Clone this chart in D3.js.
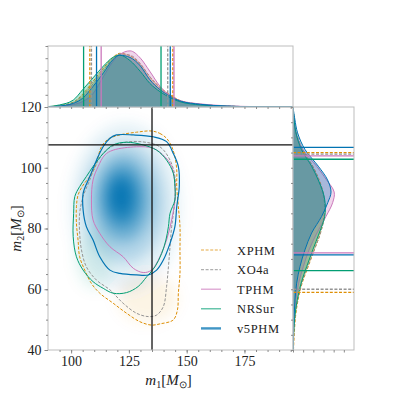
<!DOCTYPE html>
<html>
<head>
<meta charset="utf-8">
<script src="https://cdn.jsdelivr.net/npm/d3@7"></script>
<style>
body { margin: 0; background: #fff; }
</style>
</head>
<body>
<svg id="chart" width="393" height="393"></svg>
<script>
// models, drawn in this order
var models = ['XPHM', 'XO4a', 'TPHM', 'NRSur', 'v5PHM'];
var colors = ['#de8f05', '#949494', '#cc78bc', '#029e73', '#0173b2'];
var dashed = [true, true, false, false, false];

var m1Domain = [90, 196],
	m2Domain = [40, 120];
var m1Ticks = [100, 125, 150, 175];
var m2Ticks = [40, 60, 80, 100, 120];

// injected values (black cross)
var injM1 = 135, injM2 = 107.5;

// 90% contours [m1, m2]
var contourXPHM = [[134.8,112.1],[138.4,111.3],[141.3,109.7],[143.5,107.0],[144.9,103.6],[145.7,99.3],[145.7,93.8],[146.4,87.2],[147.1,80.6],[147.1,72.9],[147.1,65.2],[146.4,58.7],[146,53.2],[144.2,49.9],[138.4,48.6],[134.8,48.2],[129.8,49.3],[124,52.1],[118.2,55.4],[112.4,58.7],[108.8,61.9],[105.9,66.3],[103.7,70.7],[103,76.2],[102.3,81.7],[102.3,87.2],[103,91],[105.2,94.3],[108.1,97.1],[110.5,100.4],[111.7,103.6],[113.1,106.9],[116,109.4],[121.1,110.8],[128.3,111.7]];
var contourXO4a = [[129.8,108.6],[138.4,106.9],[142.8,102.5],[144.9,97.1],[144.9,89.4],[143.5,80.6],[142.8,74],[142.1,67.4],[141.3,60.9],[139.9,54.3],[137,51.5],[133.4,51],[128.3,52.1],[122.5,55.4],[116.8,59.8],[111,63],[106.6,67.4],[104.5,72.9],[103.7,78.4],[103.7,85],[105.2,90.5],[108.1,96],[111,101.5],[115.3,105.8],[121.1,108]];
var contourTPHM = [[118.2,105.8],[128.3,106.9],[135.5,106.4],[140.6,103.6],[143.5,100.4],[144.9,94.9],[144.9,89.4],[143.5,82.8],[141.3,76.2],[138.4,70.7],[134.8,66.3],[131.2,65.5],[126.9,66.9],[122.5,70.7],[116.8,74],[112.4,78.4],[109.5,82.8],[108.8,89.4],[109.5,96],[111.7,100.4],[114.6,104.2]];
var contourNRSur = [[124,108.4],[131.2,107.5],[137,105.8],[141.3,102.5],[144.2,98.2],[144.9,93.8],[144.9,89.4],[142.8,85],[142.1,80.6],[141,76.2],[139.2,71.8],[136.3,67.4],[132.7,64.1],[129,60.9],[124,58.9],[118.2,58.7],[113.9,60.3],[109.5,62.5],[105.2,66.3],[102.3,70.7],[100.9,77.3],[101.1,85],[101.6,90.5],[103.7,93.8],[106.6,97.1],[109.5,100.4],[113.9,104.7],[118.2,107.5]];
var contourV5PHM = [[119.6,110.8],[126.9,110.8],[135.5,110.2],[141.3,108.6],[144.2,104.7],[146.4,100.4],[146.8,93.8],[145.7,87.2],[144.9,80.6],[142.8,75.1],[139.9,69.6],[137,66.3],[133.4,64.7],[128.3,64.7],[121.1,65.2],[116.8,66.3],[112.4,70.7],[109.5,76.2],[106.6,80.6],[105.2,86.1],[105.2,91.6],[108.1,97.1],[111,102.5],[113.9,107],[116.8,109.7]];
var contours = [contourXPHM, contourXO4a, contourTPHM, contourNRSur, contourV5PHM];

// density blobs behind the contours [m1, m2, half-width m1, half-width m2, alpha]
var heatBlue = [[123.5,87,24,28,0.1],[123,88.5,18,20,0.22],[122.5,89.5,12,14,0.4],[122,90,7.5,9,0.65],[121.5,90.5,4,5,0.85]];
var heatOrange = [[133,57,13,8,0.1]];
var heatGreen = [[110,70,8,10,0.1]];

// m1 marginal
var m1Grid = [90, 95, 101, 105, 109.5, 114, 118, 121, 125.5, 130, 134, 138.5, 143, 147, 156, 167, 180, 196];
var m1XPHM  = [0.0002,0.0012,0.004,0.0105,0.021,0.032,0.0405,0.044,0.042,0.035,0.025,0.016,0.0098,0.0055,0.0022,0.0008,0.0002,0];
var m1XO4a  = [0.0002,0.001,0.0035,0.009,0.019,0.030,0.0395,0.0435,0.0425,0.0355,0.025,0.0155,0.0092,0.0052,0.0021,0.0008,0.0002,0];
var m1TPHM  = [0,0.0005,0.002,0.0045,0.011,0.025,0.037,0.043,0.046,0.040,0.0294,0.0169,0.0092,0.0053,0.0025,0.001,0.0003,0];
var m1NRSur = [0.0003,0.0017,0.0058,0.0142,0.0239,0.0336,0.0406,0.0425,0.038,0.029,0.0195,0.0125,0.0075,0.0044,0.0017,0.0006,0.0002,0];
var m1V5PHM = [0,0.0008,0.003,0.0072,0.0169,0.028,0.0386,0.0425,0.0406,0.0336,0.0225,0.0142,0.0086,0.005,0.0022,0.0008,0.0002,0];
var m1Dens = [m1XPHM, m1XO4a, m1TPHM, m1NRSur, m1V5PHM];

// m2 marginal
var m2Grid = [40, 45, 51, 56.5, 62, 67.5, 73, 78.5, 84, 88.5, 92, 96, 100.5, 106, 111.5, 116, 120];
var m2XPHM  = [0.0005,0.0012,0.0025,0.005,0.009,0.015,0.021,0.027,0.0305,0.031,0.0295,0.0258,0.0195,0.0095,0.0032,0.001,0.0002];
var m2XO4a  = [0.0003,0.0008,0.002,0.0045,0.0085,0.0145,0.021,0.027,0.031,0.031,0.029,0.025,0.019,0.009,0.003,0.001,0.0002];
var m2TPHM  = [0,0.0004,0.001,0.0028,0.0055,0.0102,0.0158,0.0235,0.0325,0.039,0.0405,0.033,0.0233,0.0097,0.0029,0.001,0];
var m2NRSur = [0.0002,0.0006,0.0018,0.0042,0.008,0.0135,0.0195,0.0258,0.0312,0.0316,0.0295,0.0248,0.0183,0.0083,0.0029,0.001,0.0002];
var m2V5PHM = [0,0.0003,0.001,0.002,0.0036,0.0069,0.0118,0.0183,0.0282,0.0342,0.0374,0.034,0.0249,0.0118,0.0045,0.0018,0];
var m2Dens = [m2XPHM, m2XO4a, m2TPHM, m2NRSur, m2V5PHM];

// 90% credible bounds
var m1Low  = [108.1, 108.8, 113, 105.4, 111];
var m1High = [144, 141.8, 144.5, 138.9, 142.9];
var m2Low  = [59, 60, 72, 66.1, 71.3];
var m2High = [105, 104.5, 103.9, 102.8, 106.7];

var densTicks = [0, 0.01, 0.02, 0.03, 0.04, 0.05];

// layout
var mainL = 48, mainT = 107, mainW = 245, mainH = 243;
var topH = 61, rightW = 61;
var spineColor = '#bdbdbd', tickColor = '#8a8a8a';
var serif = '"Liberation Serif", "Times New Roman", Times, serif';

var svg = d3.select('#chart');

var x = d3.scaleLinear().domain(m1Domain).range([mainL, mainL + mainW]);
var y = d3.scaleLinear().domain(m2Domain).range([mainT + mainH, mainT]);
var yTop = d3.scaleLinear().domain([0, 0.05]).range([mainT, mainT - topH]);
var xRight = d3.scaleLinear().domain([0, 0.06]).range([mainL + mainW, mainL + mainW + rightW]);

var defs = svg.append('defs');
defs.append('filter').attr('id', 'blur')
	.attr('x', '-50%').attr('y', '-50%').attr('width', '200%').attr('height', '200%')
	.append('feGaussianBlur').attr('stdDeviation', 7);
defs.append('clipPath').attr('id', 'clipMain').append('rect')
	.attr('x', mainL).attr('y', mainT).attr('width', mainW).attr('height', mainH);
defs.append('clipPath').attr('id', 'clipTop').append('rect')
	.attr('x', mainL).attr('y', mainT - topH).attr('width', mainW).attr('height', topH);
defs.append('clipPath').attr('id', 'clipRight').append('rect')
	.attr('x', mainL + mainW).attr('y', mainT).attr('width', rightW).attr('height', mainH);

// ---- main panel
var mainPanel = svg.append('g').attr('clip-path', 'url(#clipMain)');
var heat = mainPanel.append('g').attr('filter', 'url(#blur)');

function drawHeat(list, color) {
	heat.selectAll(null).data(list).enter().append('ellipse')
		.attr('cx', function(d) { return x(d[0]); })
		.attr('cy', function(d) { return y(d[1]); })
		.attr('rx', function(d) { return x(d[0] + d[2]) - x(d[0]); })
		.attr('ry', function(d) { return y(d[1]) - y(d[1] + d[3]); })
		.attr('fill', color)
		.attr('fill-opacity', function(d) { return d[4]; });
}
drawHeat(heatOrange, colors[0]);
drawHeat(heatGreen, colors[3]);
drawHeat(heatBlue, colors[4]);

var contourLine = d3.line()
	.x(function(d) { return x(d[0]); })
	.y(function(d) { return y(d[1]); })
	.curve(d3.curveCatmullRomClosed.alpha(0.5));

contours.forEach(function(c, i) {
	mainPanel.append('path')
		.attr('d', contourLine(c))
		.attr('fill', 'none')
		.attr('stroke', colors[i])
		.attr('stroke-width', i == 4 ? 1.2 : 1)
		.attr('stroke-dasharray', dashed[i] ? '3,1.6' : null);
});

mainPanel.append('line')
	.attr('x1', x(injM1)).attr('x2', x(injM1))
	.attr('y1', mainT).attr('y2', mainT + mainH)
	.attr('stroke', '#111').attr('stroke-width', 1.3);
mainPanel.append('line')
	.attr('x1', mainL).attr('x2', mainL + mainW)
	.attr('y1', y(injM2)).attr('y2', y(injM2))
	.attr('stroke', '#111').attr('stroke-width', 1.3);

// ---- top marginal
var topPanel = svg.append('g').attr('clip-path', 'url(#clipTop)');
var topArea = d3.area()
	.x(function(d) { return x(d[0]); })
	.y0(yTop(0))
	.y1(function(d) { return yTop(d[1]); })
	.curve(d3.curveMonotoneX);

m1Dens.forEach(function(dens, i) {
	var pts = m1Grid.map(function(m, k) { return [m, dens[k]]; });
	topPanel.append('path')
		.attr('d', topArea(pts))
		.attr('fill', colors[i]).attr('fill-opacity', 0.3)
		.attr('stroke', colors[i]).attr('stroke-width', 1)
		.attr('stroke-dasharray', dashed[i] ? '3,1.6' : null);
});
m1Dens.forEach(function(dens, i) {
	[m1Low[i], m1High[i]].forEach(function(v) {
		topPanel.append('line')
			.attr('x1', x(v)).attr('x2', x(v))
			.attr('y1', mainT).attr('y2', mainT - topH)
			.attr('stroke', colors[i]).attr('stroke-width', 1.3)
			.attr('stroke-dasharray', dashed[i] ? '3,1.6' : null);
	});
});

// ---- right marginal
var rightPanel = svg.append('g').attr('clip-path', 'url(#clipRight)');
var rightArea = d3.area()
	.y(function(d) { return y(d[0]); })
	.x0(xRight(0))
	.x1(function(d) { return xRight(d[1]); })
	.curve(d3.curveCatmullRom.alpha(0.5));

m2Dens.forEach(function(dens, i) {
	var pts = m2Grid.map(function(m, k) { return [m, dens[k]]; });
	rightPanel.append('path')
		.attr('d', rightArea(pts))
		.attr('fill', colors[i]).attr('fill-opacity', 0.3)
		.attr('stroke', colors[i]).attr('stroke-width', 1)
		.attr('stroke-dasharray', dashed[i] ? '3,1.6' : null);
});
m2Dens.forEach(function(dens, i) {
	[m2Low[i], m2High[i]].forEach(function(v) {
		rightPanel.append('line')
			.attr('x1', mainL + mainW).attr('x2', mainL + mainW + rightW)
			.attr('y1', y(v)).attr('y2', y(v))
			.attr('stroke', colors[i]).attr('stroke-width', 1.3)
			.attr('stroke-dasharray', dashed[i] ? '3,1.6' : null);
	});
});

// ---- spines
[[mainL, mainT, mainW, mainH], [mainL, mainT - topH, mainW, topH], [mainL + mainW, mainT, rightW, mainH]]
	.forEach(function(r) {
		svg.append('rect')
			.attr('x', r[0]).attr('y', r[1]).attr('width', r[2]).attr('height', r[3])
			.attr('fill', 'none').attr('stroke', spineColor).attr('stroke-width', 1);
	});

// ---- axes
function styleAxis(g) {
	g.attr('font-family', serif);
	g.select('.domain').remove();
	g.selectAll('line').attr('stroke', tickColor);
	g.selectAll('text')
		.style('font-family', serif)
		.style('font-size', '14px')
		.attr('fill', '#222');
}
var minorM1 = d3.range(95, 196, 5), minorM2 = d3.range(40, 121, 5);

svg.append('g').attr('transform', 'translate(0,' + (mainT + mainH) + ')')
	.call(d3.axisBottom(x).tickValues(minorM1).tickSize(2).tickFormat('')).call(styleAxis);
svg.append('g').attr('transform', 'translate(0,' + (mainT + mainH) + ')')
	.call(d3.axisBottom(x).tickValues(m1Ticks).tickSize(3.5).tickPadding(3)).call(styleAxis);
svg.append('g').attr('transform', 'translate(' + mainL + ',0)')
	.call(d3.axisLeft(y).tickValues(minorM2).tickSize(2).tickFormat('')).call(styleAxis);
svg.append('g').attr('transform', 'translate(' + mainL + ',0)')
	.call(d3.axisLeft(y).tickValues(m2Ticks).tickSize(3.5).tickPadding(3)).call(styleAxis);

// marginal ticks, no labels
svg.append('g').attr('transform', 'translate(0,' + mainT + ')')
	.call(d3.axisBottom(x).tickValues(minorM1).tickSize(2).tickFormat('')).call(styleAxis);
svg.append('g').attr('transform', 'translate(' + mainL + ',0)')
	.call(d3.axisLeft(yTop).tickValues(densTicks).tickSize(2.5).tickFormat('')).call(styleAxis);
svg.append('g').attr('transform', 'translate(' + (mainL + mainW) + ',0)')
	.call(d3.axisLeft(y).tickValues(minorM2).tickSize(2).tickFormat('')).call(styleAxis);
svg.append('g').attr('transform', 'translate(0,' + (mainT + mainH) + ')')
	.call(d3.axisBottom(xRight).tickValues(densTicks).tickSize(2.5).tickFormat('')).call(styleAxis);

// axis labels
function massLabel(sel, idx) {
	sel.append('tspan').attr('font-style', 'italic').text('m');
	sel.append('tspan').attr('font-size', '10px').attr('dy', 3).text(idx);
	sel.append('tspan').attr('dy', -3).text('[');
	sel.append('tspan').attr('font-style', 'italic').text('M');
	sel.append('tspan').attr('font-size', '10px').attr('dy', 3).text('\u2299');
	sel.append('tspan').attr('dy', -3).text(']');
}
svg.append('text')
	.attr('x', mainL + mainW / 2 - 2).attr('y', 385)
	.attr('text-anchor', 'middle')
	.style('font-family', serif).style('font-size', '15px').attr('fill', '#222')
	.call(massLabel, '1');
svg.append('text')
	.attr('transform', 'translate(21,' + (mainT + mainH / 2) + ') rotate(-90)')
	.attr('text-anchor', 'middle')
	.style('font-family', serif).style('font-size', '15px').attr('fill', '#222')
	.call(massLabel, '2');

// legend
var legend = svg.append('g').attr('transform', 'translate(201,250)');
models.forEach(function(m, i) {
	var row = legend.append('g').attr('transform', 'translate(0,' + (i * 19.6) + ')');
	row.append('line')
		.attr('x1', 0).attr('x2', 20).attr('y1', 0).attr('y2', 0)
		.attr('stroke', colors[i]).attr('stroke-opacity', 0.75)
		.attr('stroke-width', i == 4 ? 2.4 : 1.2)
		.attr('stroke-dasharray', dashed[i] ? '3,1.6' : null);
	row.append('text')
		.attr('x', 36).attr('y', 4.5)
		.style('font-family', serif)
		.style('font-size', '12.5px').style('letter-spacing', '0.6px')
		.attr('fill', '#222')
		.text(m);
});
</script>
</body>
</html>
